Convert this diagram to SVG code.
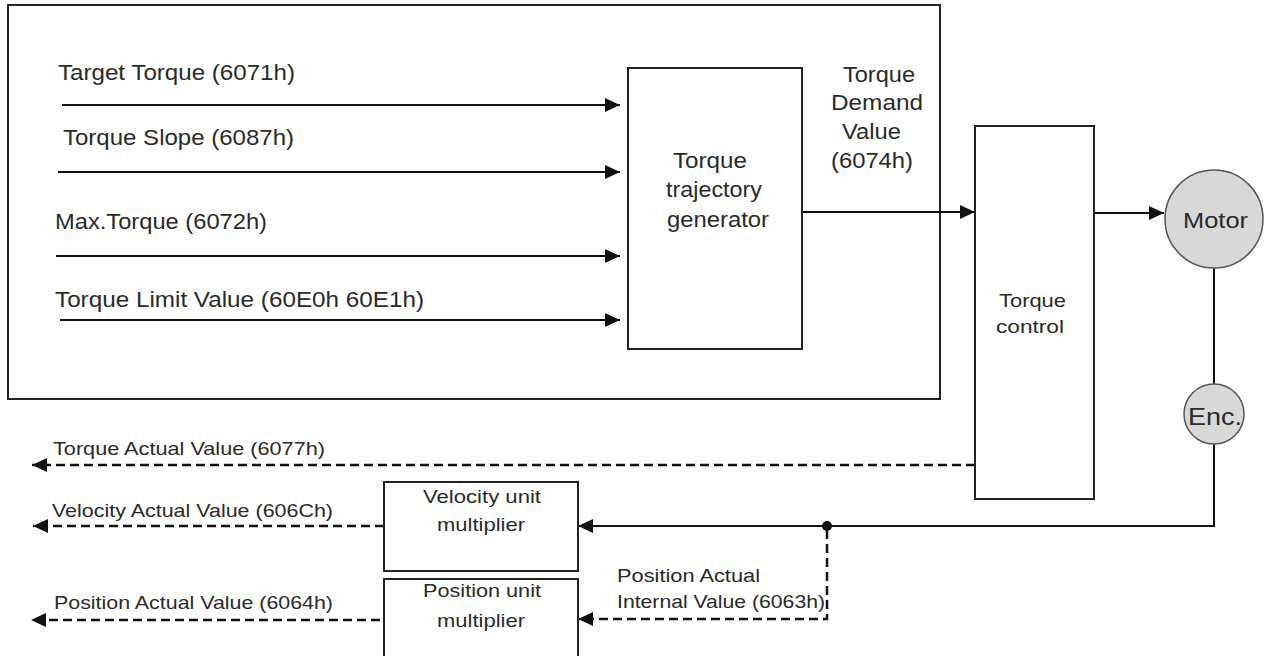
<svg xmlns="http://www.w3.org/2000/svg" width="1265" height="656" viewBox="0 0 1265 656">
<style>
  .box{fill:#fff;stroke:#222;stroke-width:2}
  .circ{fill:#d8d8d8;stroke:#555;stroke-width:1.5}
  .ln{fill:none;stroke:#111;stroke-width:2}
  .dash{fill:none;stroke:#111;stroke-width:2.5;stroke-dasharray:9 5}
  text{font-family:"Liberation Sans",Arial,sans-serif;fill:#2a2a2a}
  .big{font-size:22px}
  .sm{font-size:18.5px}
</style>
<defs>
  <marker id="ah" markerWidth="15" markerHeight="14" refX="15" refY="7" orient="auto" markerUnits="userSpaceOnUse">
    <path d="M0,0 L15,7 L0,14 Z" fill="#111" stroke="none"/>
  </marker>
</defs>

<g id="outer-frame">
  <rect class="box" x="8" y="5" width="932" height="394"/>
</g>

<g id="connectors">
  <line class="ln" x1="62" y1="105" x2="620" y2="105" marker-end="url(#ah)"/>
  <line class="ln" x1="58" y1="172" x2="620" y2="172" marker-end="url(#ah)"/>
  <line class="ln" x1="56" y1="256" x2="620" y2="256" marker-end="url(#ah)"/>
  <line class="ln" x1="60" y1="320" x2="620" y2="320" marker-end="url(#ah)"/>
  <line class="ln" x1="802" y1="212" x2="975" y2="212" marker-end="url(#ah)"/>
  <line class="ln" x1="1094" y1="213" x2="1164" y2="213" marker-end="url(#ah)"/>
  <line class="ln" x1="1214" y1="268" x2="1214" y2="384"/>
  <polyline class="ln" points="1214,444 1214,526 578,526" marker-end="url(#ah)"/>
  <circle cx="827" cy="526" r="5" fill="#111"/>
  <polyline class="dash" points="827,530 827,619 578,619" marker-end="url(#ah)"/>
  <line class="dash" x1="975" y1="465" x2="32" y2="465" marker-end="url(#ah)"/>
  <line class="dash" x1="384" y1="526" x2="33" y2="526" marker-end="url(#ah)"/>
  <line class="dash" x1="380" y1="620" x2="31" y2="620" marker-end="url(#ah)"/>
</g>

<g id="input-labels">
  <text class="big" x="58" y="80" textLength="237" lengthAdjust="spacingAndGlyphs">Target Torque (6071h)</text>
  <text class="big" x="63" y="145" textLength="231" lengthAdjust="spacingAndGlyphs">Torque Slope (6087h)</text>
  <text class="big" x="55" y="229" textLength="212" lengthAdjust="spacingAndGlyphs">Max.Torque (6072h)</text>
  <text class="big" x="55" y="307" textLength="369" lengthAdjust="spacingAndGlyphs">Torque Limit Value (60E0h 60E1h)</text>
</g>

<g id="torque-trajectory-generator">
  <rect class="box" x="628" y="68" width="174" height="281"/>
  <text class="big" x="673" y="168" textLength="74" lengthAdjust="spacingAndGlyphs">Torque</text>
  <text class="big" x="666" y="197" textLength="96" lengthAdjust="spacingAndGlyphs">trajectory</text>
  <text class="big" x="667" y="227" textLength="102" lengthAdjust="spacingAndGlyphs">generator</text>
</g>

<g id="torque-demand-label">
  <text class="big" x="843" y="82" textLength="72" lengthAdjust="spacingAndGlyphs">Torque</text>
  <text class="big" x="831" y="110" textLength="92" lengthAdjust="spacingAndGlyphs">Demand</text>
  <text class="big" x="842" y="139" textLength="59" lengthAdjust="spacingAndGlyphs">Value</text>
  <text class="big" x="831" y="168" textLength="82" lengthAdjust="spacingAndGlyphs">(6074h)</text>
</g>

<g id="torque-control">
  <rect class="box" x="975" y="126" width="119" height="373"/>
  <text class="sm" x="999" y="307" textLength="67" lengthAdjust="spacingAndGlyphs">Torque</text>
  <text class="sm" x="996" y="333" textLength="68" lengthAdjust="spacingAndGlyphs">control</text>
</g>

<g id="motor">
  <circle class="circ" cx="1214" cy="219" r="49"/>
  <text class="big" x="1183" y="228" textLength="65" lengthAdjust="spacingAndGlyphs" style="font-size:22px">Motor</text>
</g>

<g id="encoder">
  <circle class="circ" cx="1214" cy="414" r="30"/>
  <text class="big" x="1188" y="425" textLength="54" lengthAdjust="spacingAndGlyphs" style="font-size:24px">Enc.</text>
</g>

<g id="velocity-unit-multiplier">
  <rect class="box" x="384" y="482" width="194" height="89"/>
  <text class="sm" x="423" y="503" textLength="118" lengthAdjust="spacingAndGlyphs">Velocity unit</text>
  <text class="sm" x="437" y="531" textLength="88" lengthAdjust="spacingAndGlyphs">multiplier</text>
</g>

<g id="position-unit-multiplier">
  <rect class="box" x="384" y="579" width="194" height="90"/>
  <text class="sm" x="423" y="597" textLength="118" lengthAdjust="spacingAndGlyphs">Position unit</text>
  <text class="sm" x="437" y="627" textLength="88" lengthAdjust="spacingAndGlyphs">multiplier</text>
</g>

<g id="feedback-labels">
  <text class="sm" x="53" y="455" textLength="272" lengthAdjust="spacingAndGlyphs">Torque Actual Value (6077h)</text>
  <text class="sm" x="52" y="517" textLength="281" lengthAdjust="spacingAndGlyphs">Velocity Actual Value (606Ch)</text>
  <text class="sm" x="54" y="609" textLength="279" lengthAdjust="spacingAndGlyphs">Position Actual Value (6064h)</text>
  <text class="sm" x="617" y="582" textLength="143" lengthAdjust="spacingAndGlyphs">Position Actual</text>
  <text class="sm" x="617" y="608" textLength="208" lengthAdjust="spacingAndGlyphs">Internal Value (6063h)</text>
</g>
</svg>
